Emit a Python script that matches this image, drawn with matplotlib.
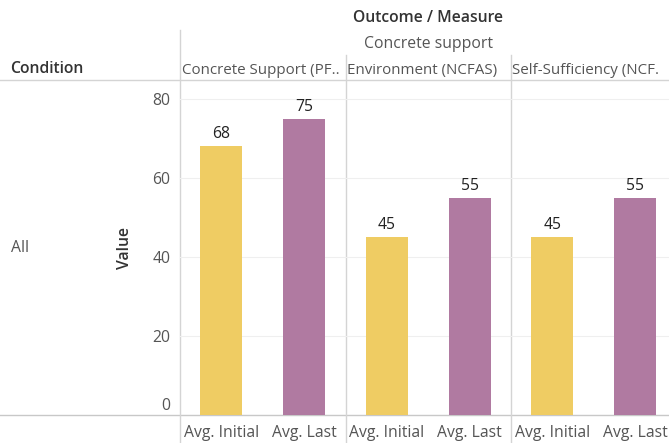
import matplotlib
matplotlib.use("Agg")
import matplotlib.pyplot as plt
import matplotlib.transforms as mtransforms

plt.rcParams['font.family'] = ['Open Sans', 'DejaVu Sans']

# data
panels = ["Concrete Support (PF..", "Environment (NCFAS)", "Self-Sufficiency (NCF."]
measures = ["Avg. Initial", "Avg. Last"]
initial = [68, 45, 45]
last = [75, 55, 55]
yticks = [0, 20, 40, 60, 80]

colors = ["#EFCC63", "#B07AA1"]
txt = "#555555"
line_c = "#d4d4d4"
fs = 11.3

W, H = 669, 443
fig = plt.figure(figsize=(W / 100, H / 100), dpi=100)

# background layer in pixel coords for headers and separators
bg = fig.add_axes([0, 0, 1, 1], zorder=0)
bg.set_xlim(0, W)
bg.set_ylim(H, 0)
bg.axis("off")

p_left, p_w, p_top, p_bot = 180, 165.5, 84, 415

bg.plot([0, W], [80, 80], color=line_c, lw=1)
bg.plot([0, W], [p_bot, p_bot], color="#c8c8c8", lw=1)
bg.plot([p_left, p_left], [30, H], color=line_c, lw=1)
for i in range(1, 3):
    x = p_left + i * p_w
    bg.plot([x, x], [55, H], color=line_c, lw=1)

bg.text(428, 18, "Outcome / Measure", ha="center", va="center", fontsize=fs,
        fontweight="semibold", color="#333333")
bg.text(428, 44, "Concrete support", ha="center", va="center", fontsize=fs, color=txt)
bg.text(10, 69, "Condition", ha="left", va="center", fontsize=fs,
        fontweight="semibold", color="#333333")
bg.text(11, 248, "All", ha="left", va="center", fontsize=fs, color=txt)
bg.text(125, 248, "Value", ha="center", va="center", rotation=90, fontsize=fs,
        fontweight="semibold", color="#333333")

for i, name in enumerate(panels):
    x0 = p_left + i * p_w
    bg.text(x0 + 1.5, 70, name, ha="left", va="center", fontsize=10.9, color=txt)
    ax = fig.add_axes([x0 / W, (H - p_bot) / H, p_w / W, (p_bot - p_top) / H], zorder=1)
    ax.patch.set_alpha(0)
    vals = [initial[i], last[i]]
    bars = ax.bar([0, 1], vals, width=0.51, color=colors)
    ax.bar_label(bars, labels=[str(v) for v in vals], padding=3, fontsize=fs, color="#222222")
    ax.set_xlim(-0.5, 1.5)
    ax.set_ylim(0, (p_bot - p_top) / 3.95)
    ax.set_yticks(yticks)
    ax.grid(axis="y", color="#efefef", lw=0.8)
    ax.set_axisbelow(True)
    for s in ax.spines.values():
        s.set_visible(False)
    ax.set_xticks([0, 1])
    ax.set_xticklabels(measures, fontsize=fs, color=txt)
    ax.tick_params(axis="x", length=0, pad=7)
    if i == 0:
        ax.tick_params(axis="y", length=0, pad=7, labelsize=fs, labelcolor=txt)
        zero = ax.get_yticklabels()[0]
        zero.set_transform(zero.get_transform() +
                           mtransforms.ScaledTranslation(0, 11 / 100, fig.dpi_scale_trans))
    else:
        ax.tick_params(axis="y", length=0, labelleft=False)

fig.savefig("out.png", dpi=100)
